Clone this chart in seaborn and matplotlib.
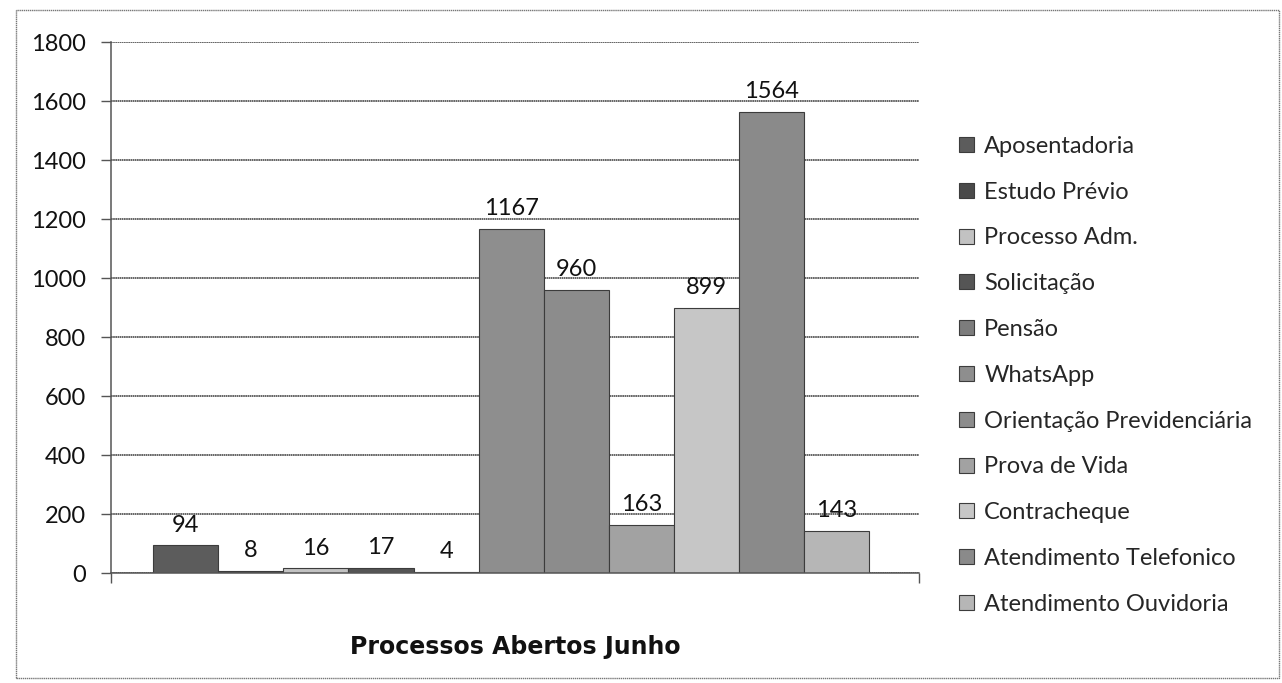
import pandas as pd
import matplotlib
matplotlib.use("Agg")
import matplotlib.pyplot as plt
import seaborn as sns
from matplotlib.patches import Rectangle

# values
category = "Processos Abertos Junho"
series = ["Aposentadoria", "Estudo Prévio", "Processo Adm.", "Solicitação", "Pensão",
          "WhatsApp", "Orientação Previdenciária", "Prova de Vida", "Contracheque",
          "Atendimento Telefonico", "Atendimento Ouvidoria"]
values = [94, 8, 16, 17, 4, 1167, 960, 163, 899, 1564, 143]
grays = ["#5c5c5c", "#4a4a4a", "#c2c2c2", "#555555", "#7c7c7c", "#8e8e8e",
         "#8c8c8c", "#a2a2a2", "#c6c6c6", "#8a8a8a", "#b6b6b6"]

df = pd.DataFrame({"cat": category, "serie": series, "valor": values})

sns.set_style("white")
plt.rcParams["font.family"] = ["Lato", "DejaVu Sans"]

fig = plt.figure(figsize=(12.82, 6.83), dpi=100)
ax = fig.add_axes([0.0866, 0.161, 0.630, 0.7775])

sns.barplot(data=df, x="cat", y="valor", hue="serie", hue_order=series,
            palette=grays, width=0.8, edgecolor="#3c3c3c", linewidth=0.8,
            saturation=1, ax=ax, legend=True)

for cont in ax.containers:
    ax.bar_label(cont, fontsize=17, padding=7, color="#111111")

ax.set_ylim(0, 1800)
ax.set_yticks(range(0, 1801, 200))
ax.set_xlim(-0.447, 0.455)
ax.set_xticks([-0.447, 0.455], labels=["", ""])
ax.tick_params(axis="x", length=7, width=1, color="#555555", direction="out", bottom=True)
ax.tick_params(axis="y", labelsize=17, length=7, width=1, color="#555555",
               direction="out", left=True, labelcolor="#111111", pad=11)
ax.yaxis.grid(True, color="#4a4a4a", linewidth=1.2, linestyle=(0, (1, 0.3)))
ax.set_axisbelow(True)
ax.set_ylabel("")
ax.set_xlabel(category, fontsize=17, fontweight="bold", labelpad=34,
              color="#111111", family=["DejaVu Sans"])
for s in ["top", "right"]:
    ax.spines[s].set_visible(False)
for s in ["left", "bottom"]:
    ax.spines[s].set_color("#555555")
    ax.spines[s].set_linewidth(1.1)

leg = ax.get_legend()
leg.remove()
handles, labels = ax.get_legend_handles_labels()
fig.legend(handles[:len(series)], labels[:len(series)], loc="upper left",
           bbox_to_anchor=(0.741, 0.815), frameon=False, fontsize=17,
           handlelength=0.6, handleheight=0.6, handletextpad=0.45,
           labelspacing=1.05, borderaxespad=0)

fig.patches.append(Rectangle((0.0125, 0.008), 0.985, 0.978, transform=fig.transFigure,
                             fill=False, edgecolor="#777777", linewidth=1.0,
                             linestyle=(0, (1, 0.5))))

fig.savefig("out.png", dpi=100)
